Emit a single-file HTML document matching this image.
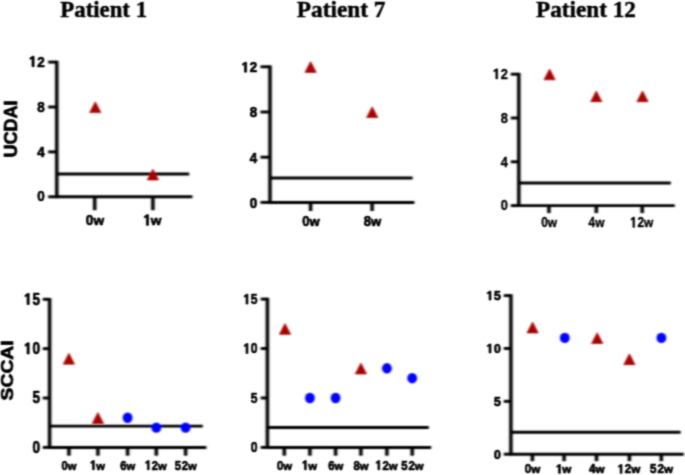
<!DOCTYPE html>
<html><head><meta charset="utf-8"><style>
html,body{margin:0;padding:0;background:#fff;}
body{width:685px;height:475px;overflow:hidden;font-family:"Liberation Sans", sans-serif;}
svg{display:block;}
</style></head><body>
<svg width="685" height="475" viewBox="0 0 685 475">
<defs><filter id="b" filterUnits="userSpaceOnUse" x="0" y="0" width="685" height="475"><feConvolveMatrix order="7" kernelMatrix="0.00000 0.00003 0.00010 0.00016 0.00010 0.00003 0.00000 0.00018 0.00152 0.00537 0.00818 0.00537 0.00152 0.00018 0.00189 0.01562 0.05528 0.08417 0.05528 0.01562 0.00189 0.00407 0.03366 0.11911 0.18136 0.11911 0.03366 0.00407 0.00189 0.01562 0.05528 0.08417 0.05528 0.01562 0.00189 0.00018 0.00152 0.00537 0.00818 0.00537 0.00152 0.00018 0.00000 0.00003 0.00010 0.00016 0.00010 0.00003 0.00000" divisor="1" edgeMode="none"/></filter><filter id="t" filterUnits="userSpaceOnUse" x="0" y="0" width="685" height="475"><feConvolveMatrix order="7" kernelMatrix="0.00000 0.00000 0.00000 0.00000 0.00000 0.00000 0.00000 0.00000 0.00005 0.00071 0.00167 0.00071 0.00005 0.00000 0.00003 0.00283 0.03952 0.09368 0.03952 0.00283 0.00003 0.00011 0.01011 0.14101 0.33423 0.14101 0.01011 0.00011 0.00003 0.00283 0.03952 0.09368 0.03952 0.00283 0.00003 0.00000 0.00005 0.00071 0.00167 0.00071 0.00005 0.00000 0.00000 0.00000 0.00000 0.00000 0.00000 0.00000 0.00000" divisor="1" edgeMode="none"/></filter></defs>
<rect width="685" height="475" fill="#fff"/>
<g filter="url(#b)">
<line x1="56.80" y1="60.75" x2="56.80" y2="198.15" stroke="#000" stroke-width="3.5" stroke-linecap="butt"/>
<line x1="48.20" y1="62.10" x2="56.80" y2="62.10" stroke="#000" stroke-width="2.95" stroke-linecap="butt"/>
<line x1="48.20" y1="107.00" x2="56.80" y2="107.00" stroke="#000" stroke-width="2.95" stroke-linecap="butt"/>
<line x1="48.20" y1="151.90" x2="56.80" y2="151.90" stroke="#000" stroke-width="2.95" stroke-linecap="butt"/>
<line x1="48.20" y1="196.80" x2="56.80" y2="196.80" stroke="#000" stroke-width="2.95" stroke-linecap="butt"/>
<line x1="56.80" y1="196.80" x2="192.40" y2="196.80" stroke="#000" stroke-width="2.95" stroke-linecap="butt"/>
<line x1="56.80" y1="174.00" x2="189.20" y2="174.00" stroke="#000" stroke-width="2.95" stroke-linecap="butt"/>
<line x1="94.70" y1="196.80" x2="94.70" y2="210.20" stroke="#000" stroke-width="3.5" stroke-linecap="butt"/>
<line x1="152.90" y1="196.80" x2="152.90" y2="210.20" stroke="#000" stroke-width="3.5" stroke-linecap="butt"/>
<polygon points="89.70,112.60 100.90,112.60 95.30,101.80" fill="#a80000" stroke="#a80000" stroke-width="0.7" stroke-linejoin="round"/>
<polygon points="147.30,179.95 158.50,179.95 152.90,169.15" fill="#a80000" stroke="#a80000" stroke-width="0.7" stroke-linejoin="round"/>
<line x1="270.00" y1="65.45" x2="270.00" y2="203.75" stroke="#000" stroke-width="3.5" stroke-linecap="butt"/>
<line x1="260.50" y1="66.80" x2="270.00" y2="66.80" stroke="#000" stroke-width="2.95" stroke-linecap="butt"/>
<line x1="260.50" y1="112.00" x2="270.00" y2="112.00" stroke="#000" stroke-width="2.95" stroke-linecap="butt"/>
<line x1="260.50" y1="157.20" x2="270.00" y2="157.20" stroke="#000" stroke-width="2.95" stroke-linecap="butt"/>
<line x1="260.50" y1="202.40" x2="270.00" y2="202.40" stroke="#000" stroke-width="2.95" stroke-linecap="butt"/>
<line x1="270.00" y1="202.40" x2="414.40" y2="202.40" stroke="#000" stroke-width="2.95" stroke-linecap="butt"/>
<line x1="270.00" y1="178.00" x2="412.60" y2="178.00" stroke="#000" stroke-width="2.95" stroke-linecap="butt"/>
<line x1="310.60" y1="202.40" x2="310.60" y2="211.00" stroke="#000" stroke-width="3.5" stroke-linecap="butt"/>
<line x1="372.10" y1="202.40" x2="372.10" y2="211.00" stroke="#000" stroke-width="3.5" stroke-linecap="butt"/>
<polygon points="305.00,72.40 316.20,72.40 310.60,61.60" fill="#a80000" stroke="#a80000" stroke-width="0.7" stroke-linejoin="round"/>
<polygon points="366.60,117.60 377.80,117.60 372.20,106.80" fill="#a80000" stroke="#a80000" stroke-width="0.7" stroke-linejoin="round"/>
<line x1="518.80" y1="72.85" x2="518.80" y2="206.95" stroke="#000" stroke-width="3.5" stroke-linecap="butt"/>
<line x1="510.80" y1="74.20" x2="518.80" y2="74.20" stroke="#000" stroke-width="2.95" stroke-linecap="butt"/>
<line x1="510.80" y1="118.00" x2="518.80" y2="118.00" stroke="#000" stroke-width="2.95" stroke-linecap="butt"/>
<line x1="510.80" y1="161.80" x2="518.80" y2="161.80" stroke="#000" stroke-width="2.95" stroke-linecap="butt"/>
<line x1="510.80" y1="205.60" x2="518.80" y2="205.60" stroke="#000" stroke-width="2.95" stroke-linecap="butt"/>
<line x1="518.80" y1="205.60" x2="674.80" y2="205.60" stroke="#000" stroke-width="2.95" stroke-linecap="butt"/>
<line x1="518.80" y1="183.00" x2="670.80" y2="183.00" stroke="#000" stroke-width="2.95" stroke-linecap="butt"/>
<line x1="548.90" y1="205.60" x2="548.90" y2="213.10" stroke="#000" stroke-width="3.5" stroke-linecap="butt"/>
<line x1="596.30" y1="205.60" x2="596.30" y2="213.10" stroke="#000" stroke-width="3.5" stroke-linecap="butt"/>
<line x1="642.20" y1="205.60" x2="642.20" y2="213.10" stroke="#000" stroke-width="3.5" stroke-linecap="butt"/>
<polygon points="544.00,79.80 555.20,79.80 549.60,69.00" fill="#a80000" stroke="#a80000" stroke-width="0.7" stroke-linejoin="round"/>
<polygon points="590.70,101.70 601.90,101.70 596.30,90.90" fill="#a80000" stroke="#a80000" stroke-width="0.7" stroke-linejoin="round"/>
<polygon points="636.90,101.70 648.10,101.70 642.50,90.90" fill="#a80000" stroke="#a80000" stroke-width="0.7" stroke-linejoin="round"/>
<line x1="49.60" y1="297.95" x2="49.60" y2="448.75" stroke="#000" stroke-width="3.5" stroke-linecap="butt"/>
<line x1="42.80" y1="299.30" x2="49.60" y2="299.30" stroke="#000" stroke-width="2.95" stroke-linecap="butt"/>
<line x1="42.80" y1="348.67" x2="49.60" y2="348.67" stroke="#000" stroke-width="2.95" stroke-linecap="butt"/>
<line x1="42.80" y1="398.03" x2="49.60" y2="398.03" stroke="#000" stroke-width="2.95" stroke-linecap="butt"/>
<line x1="42.80" y1="447.40" x2="49.60" y2="447.40" stroke="#000" stroke-width="2.95" stroke-linecap="butt"/>
<line x1="49.60" y1="447.40" x2="206.40" y2="447.40" stroke="#000" stroke-width="2.95" stroke-linecap="butt"/>
<line x1="49.60" y1="426.10" x2="202.80" y2="426.10" stroke="#000" stroke-width="2.95" stroke-linecap="butt"/>
<line x1="68.90" y1="447.40" x2="68.90" y2="455.70" stroke="#000" stroke-width="3.5" stroke-linecap="butt"/>
<line x1="97.90" y1="447.40" x2="97.90" y2="455.70" stroke="#000" stroke-width="3.5" stroke-linecap="butt"/>
<line x1="127.60" y1="447.40" x2="127.60" y2="455.70" stroke="#000" stroke-width="3.5" stroke-linecap="butt"/>
<line x1="156.30" y1="447.40" x2="156.30" y2="455.70" stroke="#000" stroke-width="3.5" stroke-linecap="butt"/>
<line x1="185.60" y1="447.40" x2="185.60" y2="455.70" stroke="#000" stroke-width="3.5" stroke-linecap="butt"/>
<polygon points="63.30,364.14 74.50,364.14 68.90,353.34" fill="#a80000" stroke="#a80000" stroke-width="0.7" stroke-linejoin="round"/>
<polygon points="92.30,423.38 103.50,423.38 97.90,412.58" fill="#a80000" stroke="#a80000" stroke-width="0.7" stroke-linejoin="round"/>
<ellipse cx="127.60" cy="417.78" rx="4.90" ry="5.20" fill="#0000ff"/>
<ellipse cx="156.30" cy="427.65" rx="4.90" ry="5.20" fill="#0000ff"/>
<ellipse cx="185.60" cy="427.65" rx="4.90" ry="5.20" fill="#0000ff"/>
<line x1="267.40" y1="297.75" x2="267.40" y2="448.75" stroke="#000" stroke-width="3.5" stroke-linecap="butt"/>
<line x1="260.70" y1="299.10" x2="267.40" y2="299.10" stroke="#000" stroke-width="2.95" stroke-linecap="butt"/>
<line x1="260.70" y1="348.53" x2="267.40" y2="348.53" stroke="#000" stroke-width="2.95" stroke-linecap="butt"/>
<line x1="260.70" y1="397.97" x2="267.40" y2="397.97" stroke="#000" stroke-width="2.95" stroke-linecap="butt"/>
<line x1="260.70" y1="447.40" x2="267.40" y2="447.40" stroke="#000" stroke-width="2.95" stroke-linecap="butt"/>
<line x1="267.40" y1="447.40" x2="431.20" y2="447.40" stroke="#000" stroke-width="2.95" stroke-linecap="butt"/>
<line x1="267.40" y1="427.40" x2="428.80" y2="427.40" stroke="#000" stroke-width="2.95" stroke-linecap="butt"/>
<line x1="284.30" y1="447.40" x2="284.30" y2="455.70" stroke="#000" stroke-width="3.5" stroke-linecap="butt"/>
<line x1="309.90" y1="447.40" x2="309.90" y2="455.70" stroke="#000" stroke-width="3.5" stroke-linecap="butt"/>
<line x1="335.60" y1="447.40" x2="335.60" y2="455.70" stroke="#000" stroke-width="3.5" stroke-linecap="butt"/>
<line x1="360.90" y1="447.40" x2="360.90" y2="455.70" stroke="#000" stroke-width="3.5" stroke-linecap="butt"/>
<line x1="386.90" y1="447.40" x2="386.90" y2="455.70" stroke="#000" stroke-width="3.5" stroke-linecap="butt"/>
<line x1="412.20" y1="447.40" x2="412.20" y2="455.70" stroke="#000" stroke-width="3.5" stroke-linecap="butt"/>
<polygon points="279.40,334.36 290.60,334.36 285.00,323.56" fill="#a80000" stroke="#a80000" stroke-width="0.7" stroke-linejoin="round"/>
<ellipse cx="309.90" cy="397.97" rx="4.90" ry="5.20" fill="#0000ff"/>
<ellipse cx="335.60" cy="397.97" rx="4.90" ry="5.20" fill="#0000ff"/>
<polygon points="355.30,373.91 366.50,373.91 360.90,363.11" fill="#a80000" stroke="#a80000" stroke-width="0.7" stroke-linejoin="round"/>
<ellipse cx="386.90" cy="368.31" rx="4.90" ry="5.20" fill="#0000ff"/>
<ellipse cx="412.20" cy="378.19" rx="4.90" ry="5.20" fill="#0000ff"/>
<line x1="510.90" y1="294.25" x2="510.90" y2="455.55" stroke="#000" stroke-width="3.5" stroke-linecap="butt"/>
<line x1="503.80" y1="295.60" x2="510.90" y2="295.60" stroke="#000" stroke-width="2.95" stroke-linecap="butt"/>
<line x1="503.80" y1="348.47" x2="510.90" y2="348.47" stroke="#000" stroke-width="2.95" stroke-linecap="butt"/>
<line x1="503.80" y1="401.33" x2="510.90" y2="401.33" stroke="#000" stroke-width="2.95" stroke-linecap="butt"/>
<line x1="503.80" y1="454.20" x2="510.90" y2="454.20" stroke="#000" stroke-width="2.95" stroke-linecap="butt"/>
<line x1="510.90" y1="454.20" x2="683.80" y2="454.20" stroke="#000" stroke-width="2.95" stroke-linecap="butt"/>
<line x1="510.90" y1="432.20" x2="680.60" y2="432.20" stroke="#000" stroke-width="2.95" stroke-linecap="butt"/>
<line x1="532.40" y1="454.20" x2="532.40" y2="461.20" stroke="#000" stroke-width="3.5" stroke-linecap="butt"/>
<line x1="564.10" y1="454.20" x2="564.10" y2="461.20" stroke="#000" stroke-width="3.5" stroke-linecap="butt"/>
<line x1="596.50" y1="454.20" x2="596.50" y2="461.20" stroke="#000" stroke-width="3.5" stroke-linecap="butt"/>
<line x1="629.40" y1="454.20" x2="629.40" y2="461.20" stroke="#000" stroke-width="3.5" stroke-linecap="butt"/>
<line x1="661.30" y1="454.20" x2="661.30" y2="461.20" stroke="#000" stroke-width="3.5" stroke-linecap="butt"/>
<polygon points="527.00,332.92 538.20,332.92 532.60,322.12" fill="#a80000" stroke="#a80000" stroke-width="0.7" stroke-linejoin="round"/>
<ellipse cx="564.80" cy="337.89" rx="4.90" ry="5.20" fill="#0000ff"/>
<polygon points="591.60,343.49 602.80,343.49 597.20,332.69" fill="#a80000" stroke="#a80000" stroke-width="0.7" stroke-linejoin="round"/>
<polygon points="623.80,364.64 635.00,364.64 629.40,353.84" fill="#a80000" stroke="#a80000" stroke-width="0.7" stroke-linejoin="round"/>
<ellipse cx="661.40" cy="337.89" rx="4.90" ry="5.20" fill="#0000ff"/>
</g>
<g filter="url(#t)">
<text transform="translate(60.33,16.57) scale(1.006,1)" font-size="22.67" font-family='"Liberation Serif", serif' font-weight="bold" stroke="#000" stroke-width="0.45" stroke-linejoin="round">Patient 1</text>
<text transform="translate(296.83,16.67) scale(1.022,1)" font-size="22.82" font-family='"Liberation Serif", serif' font-weight="bold" stroke="#000" stroke-width="0.45" stroke-linejoin="round">Patient 7</text>
<text transform="translate(536.12,16.57) scale(1.023,1)" font-size="22.67" font-family='"Liberation Serif", serif' font-weight="bold" stroke="#000" stroke-width="0.45" stroke-linejoin="round">Patient 12</text>
<g transform="translate(27.84,66.73) scale(1.000,1)" font-family='"Liberation Sans", sans-serif' font-weight="bold" stroke="#000" stroke-width="0.7" stroke-linejoin="round">
<path d="M560,0 L560,1120 L290,960 L290,1190 L620,1409 L840,1409 L840,0 Z" transform="translate(0.00,0) scale(0.00745,-0.00745)" vector-effect="non-scaling-stroke"/>
<text x="8.48" font-size="15.25" transform="matrix(0.88,0,0,1,2.036,0)">2</text>
</g>
<g transform="translate(36.33,111.63) scale(1.000,1)" font-family='"Liberation Sans", sans-serif' font-weight="bold" stroke="#000" stroke-width="0.7" stroke-linejoin="round">
<text x="0.00" font-size="15.25" transform="matrix(0.88,0,0,1,1.018,0)">8</text>
</g>
<g transform="translate(36.33,156.53) scale(1.000,1)" font-family='"Liberation Sans", sans-serif' font-weight="bold" stroke="#000" stroke-width="0.7" stroke-linejoin="round">
<text x="0.00" font-size="15.25" transform="matrix(0.88,0,0,1,1.018,0)">4</text>
</g>
<g transform="translate(36.33,201.43) scale(1.000,1)" font-family='"Liberation Sans", sans-serif' font-weight="bold" stroke="#000" stroke-width="0.7" stroke-linejoin="round">
<text x="0.00" font-size="15.25" transform="matrix(0.88,0,0,1,1.018,0)">0</text>
</g>
<g transform="translate(84.79,225.33) scale(1.000,1)" font-family='"Liberation Sans", sans-serif' font-weight="bold" stroke="#000" stroke-width="0.7" stroke-linejoin="round">
<text x="0.00" font-size="15.54" transform="matrix(0.88,0,0,1,1.037,0)">0</text>
<text x="8.64" font-size="13.67">w</text>
</g>
<g transform="translate(142.15,225.33) scale(1.000,1)" font-family='"Liberation Sans", sans-serif' font-weight="bold" stroke="#000" stroke-width="0.7" stroke-linejoin="round">
<path d="M560,0 L560,1120 L290,960 L290,1190 L620,1409 L840,1409 L840,0 Z" transform="translate(0.00,0) scale(0.00759,-0.00759)" vector-effect="non-scaling-stroke"/>
<text x="8.64" font-size="13.67">w</text>
</g>
<g transform="translate(240.38,72.14) scale(1.050,1)" font-family='"Liberation Sans", sans-serif' font-weight="bold" stroke="#000" stroke-width="0.7" stroke-linejoin="round">
<path d="M560,0 L560,1120 L290,960 L290,1190 L620,1409 L840,1409 L840,0 Z" transform="translate(0.00,0) scale(0.00703,-0.00703)" vector-effect="non-scaling-stroke"/>
<text x="8.01" font-size="14.41" transform="matrix(0.88,0,0,1,1.923,0)">2</text>
</g>
<g transform="translate(248.79,117.34) scale(1.050,1)" font-family='"Liberation Sans", sans-serif' font-weight="bold" stroke="#000" stroke-width="0.7" stroke-linejoin="round">
<text x="0.00" font-size="14.41" transform="matrix(0.88,0,0,1,0.961,0)">8</text>
</g>
<g transform="translate(248.79,162.54) scale(1.050,1)" font-family='"Liberation Sans", sans-serif' font-weight="bold" stroke="#000" stroke-width="0.7" stroke-linejoin="round">
<text x="0.00" font-size="14.41" transform="matrix(0.88,0,0,1,0.961,0)">4</text>
</g>
<g transform="translate(248.79,207.74) scale(1.050,1)" font-family='"Liberation Sans", sans-serif' font-weight="bold" stroke="#000" stroke-width="0.7" stroke-linejoin="round">
<text x="0.00" font-size="14.41" transform="matrix(0.88,0,0,1,0.961,0)">0</text>
</g>
<g transform="translate(301.14,226.14) scale(1.050,1)" font-family='"Liberation Sans", sans-serif' font-weight="bold" stroke="#000" stroke-width="0.7" stroke-linejoin="round">
<text x="0.00" font-size="14.12" transform="matrix(0.88,0,0,1,0.943,0)">0</text>
<text x="7.86" font-size="12.43">w</text>
</g>
<g transform="translate(362.64,226.14) scale(1.050,1)" font-family='"Liberation Sans", sans-serif' font-weight="bold" stroke="#000" stroke-width="0.7" stroke-linejoin="round">
<text x="0.00" font-size="14.12" transform="matrix(0.88,0,0,1,0.943,0)">8</text>
<text x="7.86" font-size="12.43">w</text>
</g>
<g transform="translate(491.77,78.99) scale(0.980,1)" font-family='"Liberation Sans", sans-serif' font-weight="bold" stroke="#000" stroke-width="0.4" stroke-linejoin="round">
<path d="M560,0 L560,1120 L290,960 L290,1190 L620,1409 L840,1409 L840,0 Z" transform="translate(0.00,0) scale(0.00724,-0.00724)" vector-effect="non-scaling-stroke"/>
<text x="8.25" font-size="14.83" transform="matrix(0.88,0,0,1,1.979,0)">2</text>
</g>
<g transform="translate(499.85,122.79) scale(0.980,1)" font-family='"Liberation Sans", sans-serif' font-weight="bold" stroke="#000" stroke-width="0.4" stroke-linejoin="round">
<text x="0.00" font-size="14.83" transform="matrix(0.88,0,0,1,0.990,0)">8</text>
</g>
<g transform="translate(499.85,166.59) scale(0.980,1)" font-family='"Liberation Sans", sans-serif' font-weight="bold" stroke="#000" stroke-width="0.4" stroke-linejoin="round">
<text x="0.00" font-size="14.83" transform="matrix(0.88,0,0,1,0.990,0)">4</text>
</g>
<g transform="translate(499.85,210.39) scale(0.980,1)" font-family='"Liberation Sans", sans-serif' font-weight="bold" stroke="#000" stroke-width="0.4" stroke-linejoin="round">
<text x="0.00" font-size="14.83" transform="matrix(0.88,0,0,1,0.990,0)">0</text>
</g>
<g transform="translate(540.30,227.39) scale(0.900,1)" font-family='"Liberation Sans", sans-serif' font-weight="bold" stroke="#000" stroke-width="0.4" stroke-linejoin="round">
<text x="0.00" font-size="14.97" transform="matrix(0.88,0,0,1,0.999,0)">0</text>
<text x="8.33" font-size="13.18">w</text>
</g>
<g transform="translate(587.70,227.39) scale(0.900,1)" font-family='"Liberation Sans", sans-serif' font-weight="bold" stroke="#000" stroke-width="0.4" stroke-linejoin="round">
<text x="0.00" font-size="14.97" transform="matrix(0.88,0,0,1,0.999,0)">4</text>
<text x="8.33" font-size="13.18">w</text>
</g>
<g transform="translate(629.13,227.39) scale(0.900,1)" font-family='"Liberation Sans", sans-serif' font-weight="bold" stroke="#000" stroke-width="0.4" stroke-linejoin="round">
<path d="M560,0 L560,1120 L290,960 L290,1190 L620,1409 L840,1409 L840,0 Z" transform="translate(0.00,0) scale(0.00731,-0.00731)" vector-effect="non-scaling-stroke"/>
<text x="8.33" font-size="14.97" transform="matrix(0.88,0,0,1,1.998,0)">2</text>
<text x="16.65" font-size="13.18">w</text>
</g>
<g transform="translate(17.31,157.50) rotate(-90) scale(0.954,1)" font-family='"Liberation Sans", sans-serif' font-weight="bold" stroke="#000" stroke-width="0.7" stroke-linejoin="round">
<text x="0.00" font-size="18.93">UCDAI</text>
</g>
<g transform="translate(22.85,304.57) scale(0.950,1)" font-family='"Liberation Sans", sans-serif' font-weight="bold" stroke="#000" stroke-width="0.7" stroke-linejoin="round">
<path d="M560,0 L560,1120 L290,960 L290,1190 L620,1409 L840,1409 L840,0 Z" transform="translate(0.00,0) scale(0.00793,-0.00793)" vector-effect="non-scaling-stroke"/>
<text x="9.03" font-size="16.24" transform="matrix(0.88,0,0,1,2.168,0)">5</text>
</g>
<g transform="translate(22.85,353.94) scale(0.950,1)" font-family='"Liberation Sans", sans-serif' font-weight="bold" stroke="#000" stroke-width="0.7" stroke-linejoin="round">
<path d="M560,0 L560,1120 L290,960 L290,1190 L620,1409 L840,1409 L840,0 Z" transform="translate(0.00,0) scale(0.00793,-0.00793)" vector-effect="non-scaling-stroke"/>
<text x="9.03" font-size="16.24" transform="matrix(0.88,0,0,1,2.168,0)">0</text>
</g>
<g transform="translate(31.44,403.30) scale(0.950,1)" font-family='"Liberation Sans", sans-serif' font-weight="bold" stroke="#000" stroke-width="0.7" stroke-linejoin="round">
<text x="0.00" font-size="16.24" transform="matrix(0.88,0,0,1,1.084,0)">5</text>
</g>
<g transform="translate(31.44,452.67) scale(0.950,1)" font-family='"Liberation Sans", sans-serif' font-weight="bold" stroke="#000" stroke-width="0.7" stroke-linejoin="round">
<text x="0.00" font-size="16.24" transform="matrix(0.88,0,0,1,1.084,0)">0</text>
</g>
<g transform="translate(60.77,469.75) scale(0.960,1)" font-family='"Liberation Sans", sans-serif' font-weight="bold" stroke="#000" stroke-width="0.7" stroke-linejoin="round">
<text x="0.00" font-size="13.28" transform="matrix(0.88,0,0,1,0.886,0)">0</text>
<text x="7.38" font-size="11.68">w</text>
</g>
<g transform="translate(89.08,469.75) scale(0.960,1)" font-family='"Liberation Sans", sans-serif' font-weight="bold" stroke="#000" stroke-width="0.7" stroke-linejoin="round">
<path d="M560,0 L560,1120 L290,960 L290,1190 L620,1409 L840,1409 L840,0 Z" transform="translate(0.00,0) scale(0.00648,-0.00648)" vector-effect="non-scaling-stroke"/>
<text x="7.38" font-size="11.68">w</text>
</g>
<g transform="translate(119.47,469.75) scale(0.960,1)" font-family='"Liberation Sans", sans-serif' font-weight="bold" stroke="#000" stroke-width="0.7" stroke-linejoin="round">
<text x="0.00" font-size="13.28" transform="matrix(0.88,0,0,1,0.886,0)">6</text>
<text x="7.38" font-size="11.68">w</text>
</g>
<g transform="translate(143.93,469.75) scale(0.960,1)" font-family='"Liberation Sans", sans-serif' font-weight="bold" stroke="#000" stroke-width="0.7" stroke-linejoin="round">
<path d="M560,0 L560,1120 L290,960 L290,1190 L620,1409 L840,1409 L840,0 Z" transform="translate(0.00,0) scale(0.00648,-0.00648)" vector-effect="non-scaling-stroke"/>
<text x="7.38" font-size="13.28" transform="matrix(0.88,0,0,1,1.772,0)">2</text>
<text x="14.77" font-size="11.68">w</text>
</g>
<g transform="translate(173.92,469.75) scale(0.960,1)" font-family='"Liberation Sans", sans-serif' font-weight="bold" stroke="#000" stroke-width="0.7" stroke-linejoin="round">
<text x="0.00" font-size="13.28" transform="matrix(0.88,0,0,1,0.886,0)">5</text>
<text x="7.38" font-size="13.28" transform="matrix(0.88,0,0,1,1.772,0)">2</text>
<text x="14.77" font-size="11.68">w</text>
</g>
<g transform="translate(242.33,304.04) scale(0.950,1)" font-family='"Liberation Sans", sans-serif' font-weight="bold" stroke="#000" stroke-width="0.7" stroke-linejoin="round">
<path d="M560,0 L560,1120 L290,960 L290,1190 L620,1409 L840,1409 L840,0 Z" transform="translate(0.00,0) scale(0.00703,-0.00703)" vector-effect="non-scaling-stroke"/>
<text x="8.01" font-size="14.41" transform="matrix(0.88,0,0,1,1.923,0)">5</text>
</g>
<g transform="translate(242.33,353.47) scale(0.950,1)" font-family='"Liberation Sans", sans-serif' font-weight="bold" stroke="#000" stroke-width="0.7" stroke-linejoin="round">
<path d="M560,0 L560,1120 L290,960 L290,1190 L620,1409 L840,1409 L840,0 Z" transform="translate(0.00,0) scale(0.00703,-0.00703)" vector-effect="non-scaling-stroke"/>
<text x="8.01" font-size="14.41" transform="matrix(0.88,0,0,1,1.923,0)">0</text>
</g>
<g transform="translate(249.95,402.91) scale(0.950,1)" font-family='"Liberation Sans", sans-serif' font-weight="bold" stroke="#000" stroke-width="0.7" stroke-linejoin="round">
<text x="0.00" font-size="14.41" transform="matrix(0.88,0,0,1,0.961,0)">5</text>
</g>
<g transform="translate(249.95,452.34) scale(0.950,1)" font-family='"Liberation Sans", sans-serif' font-weight="bold" stroke="#000" stroke-width="0.7" stroke-linejoin="round">
<text x="0.00" font-size="14.41" transform="matrix(0.88,0,0,1,0.961,0)">0</text>
</g>
<g transform="translate(276.08,469.75) scale(0.970,1)" font-family='"Liberation Sans", sans-serif' font-weight="bold" stroke="#000" stroke-width="0.7" stroke-linejoin="round">
<text x="0.00" font-size="13.28" transform="matrix(0.88,0,0,1,0.886,0)">0</text>
<text x="7.38" font-size="11.68">w</text>
</g>
<g transform="translate(300.99,469.75) scale(0.970,1)" font-family='"Liberation Sans", sans-serif' font-weight="bold" stroke="#000" stroke-width="0.7" stroke-linejoin="round">
<path d="M560,0 L560,1120 L290,960 L290,1190 L620,1409 L840,1409 L840,0 Z" transform="translate(0.00,0) scale(0.00648,-0.00648)" vector-effect="non-scaling-stroke"/>
<text x="7.38" font-size="11.68">w</text>
</g>
<g transform="translate(327.38,469.75) scale(0.970,1)" font-family='"Liberation Sans", sans-serif' font-weight="bold" stroke="#000" stroke-width="0.7" stroke-linejoin="round">
<text x="0.00" font-size="13.28" transform="matrix(0.88,0,0,1,0.886,0)">6</text>
<text x="7.38" font-size="11.68">w</text>
</g>
<g transform="translate(352.68,469.75) scale(0.970,1)" font-family='"Liberation Sans", sans-serif' font-weight="bold" stroke="#000" stroke-width="0.7" stroke-linejoin="round">
<text x="0.00" font-size="13.28" transform="matrix(0.88,0,0,1,0.886,0)">8</text>
<text x="7.38" font-size="11.68">w</text>
</g>
<g transform="translate(374.41,469.75) scale(0.970,1)" font-family='"Liberation Sans", sans-serif' font-weight="bold" stroke="#000" stroke-width="0.7" stroke-linejoin="round">
<path d="M560,0 L560,1120 L290,960 L290,1190 L620,1409 L840,1409 L840,0 Z" transform="translate(0.00,0) scale(0.00648,-0.00648)" vector-effect="non-scaling-stroke"/>
<text x="7.38" font-size="13.28" transform="matrix(0.88,0,0,1,1.772,0)">2</text>
<text x="14.77" font-size="11.68">w</text>
</g>
<g transform="translate(400.40,469.75) scale(0.970,1)" font-family='"Liberation Sans", sans-serif' font-weight="bold" stroke="#000" stroke-width="0.7" stroke-linejoin="round">
<text x="0.00" font-size="13.28" transform="matrix(0.88,0,0,1,0.886,0)">5</text>
<text x="7.38" font-size="13.28" transform="matrix(0.88,0,0,1,1.772,0)">2</text>
<text x="14.77" font-size="11.68">w</text>
</g>
<g transform="translate(485.30,300.06) scale(1.070,1)" font-family='"Liberation Sans", sans-serif' font-weight="bold" stroke="#000" stroke-width="0.7" stroke-linejoin="round">
<path d="M560,0 L560,1120 L290,960 L290,1190 L620,1409 L840,1409 L840,0 Z" transform="translate(0.00,0) scale(0.00634,-0.00634)" vector-effect="non-scaling-stroke"/>
<text x="7.23" font-size="12.99" transform="matrix(0.88,0,0,1,1.734,0)">5</text>
</g>
<g transform="translate(485.30,352.92) scale(1.070,1)" font-family='"Liberation Sans", sans-serif' font-weight="bold" stroke="#000" stroke-width="0.7" stroke-linejoin="round">
<path d="M560,0 L560,1120 L290,960 L290,1190 L620,1409 L840,1409 L840,0 Z" transform="translate(0.00,0) scale(0.00634,-0.00634)" vector-effect="non-scaling-stroke"/>
<text x="7.23" font-size="12.99" transform="matrix(0.88,0,0,1,1.734,0)">0</text>
</g>
<g transform="translate(493.03,405.79) scale(1.070,1)" font-family='"Liberation Sans", sans-serif' font-weight="bold" stroke="#000" stroke-width="0.7" stroke-linejoin="round">
<text x="0.00" font-size="12.99" transform="matrix(0.88,0,0,1,0.867,0)">5</text>
</g>
<g transform="translate(493.03,458.66) scale(1.070,1)" font-family='"Liberation Sans", sans-serif' font-weight="bold" stroke="#000" stroke-width="0.7" stroke-linejoin="round">
<text x="0.00" font-size="12.99" transform="matrix(0.88,0,0,1,0.867,0)">0</text>
</g>
<g transform="translate(523.95,473.36) scale(1.030,1)" font-family='"Liberation Sans", sans-serif' font-weight="bold" stroke="#000" stroke-width="0.7" stroke-linejoin="round">
<text x="0.00" font-size="12.85" transform="matrix(0.88,0,0,1,0.858,0)">0</text>
<text x="7.15" font-size="11.31">w</text>
</g>
<g transform="translate(554.94,473.36) scale(1.030,1)" font-family='"Liberation Sans", sans-serif' font-weight="bold" stroke="#000" stroke-width="0.7" stroke-linejoin="round">
<path d="M560,0 L560,1120 L290,960 L290,1190 L620,1409 L840,1409 L840,0 Z" transform="translate(0.00,0) scale(0.00628,-0.00628)" vector-effect="non-scaling-stroke"/>
<text x="7.15" font-size="11.31">w</text>
</g>
<g transform="translate(588.05,473.36) scale(1.030,1)" font-family='"Liberation Sans", sans-serif' font-weight="bold" stroke="#000" stroke-width="0.7" stroke-linejoin="round">
<text x="0.00" font-size="12.85" transform="matrix(0.88,0,0,1,0.858,0)">4</text>
<text x="7.15" font-size="11.31">w</text>
</g>
<g transform="translate(616.56,473.36) scale(1.030,1)" font-family='"Liberation Sans", sans-serif' font-weight="bold" stroke="#000" stroke-width="0.7" stroke-linejoin="round">
<path d="M560,0 L560,1120 L290,960 L290,1190 L620,1409 L840,1409 L840,0 Z" transform="translate(0.00,0) scale(0.00628,-0.00628)" vector-effect="non-scaling-stroke"/>
<text x="7.15" font-size="12.85" transform="matrix(0.88,0,0,1,1.716,0)">2</text>
<text x="14.30" font-size="11.31">w</text>
</g>
<g transform="translate(649.17,473.36) scale(1.030,1)" font-family='"Liberation Sans", sans-serif' font-weight="bold" stroke="#000" stroke-width="0.7" stroke-linejoin="round">
<text x="0.00" font-size="12.85" transform="matrix(0.88,0,0,1,0.858,0)">5</text>
<text x="7.15" font-size="12.85" transform="matrix(0.88,0,0,1,1.716,0)">2</text>
<text x="14.30" font-size="11.31">w</text>
</g>
<g transform="translate(13.23,400.40) rotate(-90) scale(1.157,1)" font-family='"Liberation Sans", sans-serif' font-weight="bold" stroke="#000" stroke-width="0.7" stroke-linejoin="round">
<text x="0.00" font-size="16.67">SCCAI</text>
</g>
</g>
</svg>
</body></html>
